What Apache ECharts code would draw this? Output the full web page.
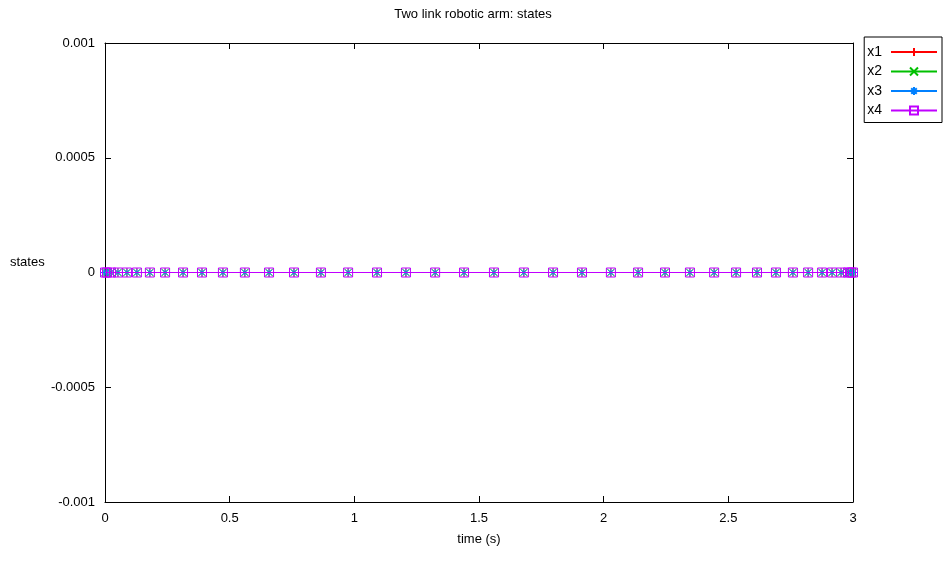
<!DOCTYPE html>
<html><head><meta charset="utf-8">
<script src="https://cdn.jsdelivr.net/npm/echarts@6/dist/echarts.min.js"></script>
<style>html,body{margin:0;padding:0;background:#fff}#c{width:946px;height:565px}</style>
</head><body><div id="c"></div>
<script>
var times = [0, 0.008, 0.024, 0.052, 0.088, 0.128, 0.180, 0.241, 0.313, 0.389, 0.473, 0.561, 0.658, 0.758, 0.866, 0.975, 1.091, 1.207, 1.324, 1.440, 1.560, 1.680, 1.797, 1.913, 2.029, 2.138, 2.246, 2.346, 2.443, 2.531, 2.615, 2.691, 2.759, 2.820, 2.876, 2.916, 2.952, 2.980, 2.992, 3.0];
var x1 = [0,0,0,0,0,0,0,0,0,0,0,0,0,0,0,0,0,0,0,0,0,0,0,0,0,0,0,0,0,0,0,0,0,0,0,0,0,0,0,0];
var x2 = [0,0,0,0,0,0,0,0,0,0,0,0,0,0,0,0,0,0,0,0,0,0,0,0,0,0,0,0,0,0,0,0,0,0,0,0,0,0,0,0];
var x3 = [0,0,0,0,0,0,0,0,0,0,0,0,0,0,0,0,0,0,0,0,0,0,0,0,0,0,0,0,0,0,0,0,0,0,0,0,0,0,0,0];
var x4 = [0,0,0,0,0,0,0,0,0,0,0,0,0,0,0,0,0,0,0,0,0,0,0,0,0,0,0,0,0,0,0,0,0,0,0,0,0,0,0,0];
var seriesNames = ['x1','x2','x3','x4'];
var yTicks = ['-0.001','-0.0005','0','0.0005','0.001'];

var F = 'Liberation Sans, Arial, sans-serif';
function pairs(v){ return times.map(function(t,i){return [t, v[i]];}); }
var specs = [
  {data:x1, color:'#ff0000', symbol:'path://M5,0L5,10M0,5L10,5', size:9},
  {data:x2, color:'#00c000', symbol:'path://M0,0L10,10M10,0L0,10', size:8},
  {data:x3, color:'#0080ff', symbol:'path://M5,0L5,10M0,5L10,5M1.5,1.5L8.5,8.5M8.5,1.5L1.5,8.5', size:8},
  {data:x4, color:'#c000ff', symbol:'path://M0,0L10,0L10,10L0,10Z', size:9}
];
var series = specs.map(function(s, i){
  return {
    name: seriesNames[i], type:'line', data: pairs(s.data),
    symbol: s.symbol, symbolSize: s.size, showSymbol:true, showAllSymbol:true,
    lineStyle:{color:s.color, width:1},
    itemStyle:{color:'none', borderColor:s.color, borderWidth:1},
    animation:false, z: 2+i
  };
});
function axLine(){ return {show:true, onZero:false, lineStyle:{color:'#000', width:1}}; }
var tick = {show:true, inside:true, length:6, lineStyle:{color:'#000'}};
var chart = echarts.init(document.getElementById('c'), null, {renderer:'canvas'});
chart.setOption({
  animation:false,
  title:{text:'Two link robotic arm: states', left:'center', top:3,
    textStyle:{fontFamily:F, fontSize:13, fontWeight:'normal', color:'#000'}},
  legend:{
    data: seriesNames, orient:'vertical', right:4, top:37, align:'right',
    itemWidth:46, itemHeight:10, itemGap:5.5,
    borderColor:'#000', borderWidth:1, padding:[8,4,5,3],
    textStyle:{fontFamily:F, fontSize:14, color:'#000', padding:[0,4,0,0]}
  },
  grid:{left:105, right:93, top:43, bottom:63, containLabel:false},
  xAxis:[{
    type:'value', min:0, max:3, interval:0.5, position:'bottom',
    name:'time (s)', nameLocation:'middle', nameGap:31,
    nameTextStyle:{fontFamily:F, fontSize:13, color:'#000'},
    axisLine:axLine(), axisTick:tick,
    axisLabel:{fontFamily:F, fontSize:13, color:'#000', margin:10,
      formatter:function(v){return String(Math.round(v*10)/10);}},
    splitLine:{show:false}
  },{
    type:'value', min:0, max:3, interval:0.5, position:'top',
    axisLine:axLine(), axisTick:tick,
    axisLabel:{show:false}, splitLine:{show:false}
  }],
  yAxis:[{
    type:'value', min:-0.001, max:0.001, interval:0.0005, position:'left',
    axisLine:axLine(), axisTick:tick,
    axisLabel:{fontFamily:F, fontSize:13, color:'#000', margin:10,
      formatter:function(v){ var k=Math.round(v/0.0005)+2; return yTicks[k]; }},
    splitLine:{show:false}
  },{
    type:'value', min:-0.001, max:0.001, interval:0.0005, position:'right',
    axisLine:axLine(), axisTick:tick,
    axisLabel:{show:false}, splitLine:{show:false}
  }],
  graphic:[{type:'text', left:10, top:256,
    style:{text:'states', font:'13px Liberation Sans, Arial, sans-serif', fill:'#000'}}],
  series: series
});
</script></body></html>
